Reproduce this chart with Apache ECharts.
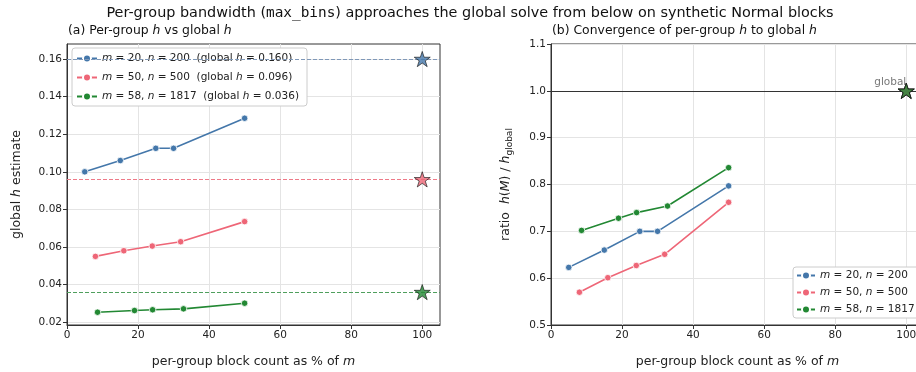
<!DOCTYPE html>
<html>
<head>
<meta charset="utf-8">
<script src="https://cdn.jsdelivr.net/npm/echarts@6/dist/echarts.min.js"></script>
<style>html,body{margin:0;padding:0;background:#fff}#c{width:916px;height:372px}</style>
</head>
<body>
<div id="c"></div>
<script>
// ---- data ----
const pct20 = [5, 15, 25, 30, 50];
const pct50 = [8, 16, 24, 32, 50];
const pct58 = [8.6, 19.0, 24.1, 32.8, 50];
const h20 = [0.100, 0.106, 0.1125, 0.1125, 0.1285];
const h50 = [0.055, 0.058, 0.0605, 0.0628, 0.0735];
const h58 = [0.0253, 0.0262, 0.0266, 0.0271, 0.0301];
const global20 = 0.160, global50 = 0.096, global58 = 0.036;
const ratio20 = [0.623, 0.660, 0.700, 0.700, 0.797];
const ratio50 = [0.570, 0.601, 0.627, 0.651, 0.762];
const ratio58 = [0.702, 0.728, 0.740, 0.754, 0.836];
const globalPct = 100;
const leftYTicks = [0.02, 0.04, 0.06, 0.08, 0.10, 0.12, 0.14, 0.16];
const xTicks = [0, 20, 40, 60, 80, 100];

const C = { b: '#4477AA', r: '#EE6677', g: '#228833' };
const FONT = 'DejaVu Sans';
const STAR = 'path://M0,-100 L22.45,-30.9 L95.1,-30.9 L36.3,11.8 L58.8,80.9 L0,38.2 L-58.8,80.9 L-36.3,11.8 L-95.1,-30.9 L-22.45,-30.9 Z';

const zip = (a, b) => a.map((v, i) => [v, b[i]]);
const it = { fontStyle: 'italic', fontFamily: FONT, fontSize: 10.5, color: '#222' };
const nameRich = (fs) => ({
  n: { fontFamily: FONT, fontSize: fs, color: '#222' },
  i: { fontFamily: FONT, fontSize: fs, fontStyle: 'italic', color: '#222' },
  s: { fontFamily: FONT, fontSize: fs * 0.72, color: '#222', padding: [7, 0, 0, 0] }
});

function lineSeries(name, color, x, y, idx) {
  return {
    name, type: 'line', xAxisIndex: idx, yAxisIndex: idx,
    data: zip(x, y), symbol: 'circle', symbolSize: 6.5,
    lineStyle: { color, width: 1.6 },
    itemStyle: { color, borderColor: '#fff', borderWidth: 0.8 },
    z: 5, animation: false
  };
}
// reference line at the global value, drawn in its own series so its colour is independent
function refLine(value, color, idx, dashed) {
  const ls = { color, type: dashed ? [4, 2] : 'solid', width: 1, opacity: 1 };
  return { type: 'line', xAxisIndex: idx, yAxisIndex: idx, data: [], color: color, z: 3, silent: true,
    markLine: { silent: true, symbol: 'none', animation: false, precision: 4, label: { show: false },
      lineStyle: ls, data: [{ yAxis: value, lineStyle: ls }] } };
}
function star(color, value, idx, z) {
  return { type: 'scatter', xAxisIndex: idx, yAxisIndex: idx, data: [[globalPct, value]],
    symbol: STAR, symbolSize: 16, symbolKeepAspect: true,
    itemStyle: { color, borderColor: '#111', borderWidth: 0.8 }, z: z, animation: false };
}

const legendLabels = {
  a20: '{i|m} = 20, {i|n} = 200  (global {i|h} = 0.160)',
  a50: '{i|m} = 50, {i|n} = 500  (global {i|h} = 0.096)',
  a58: '{i|m} = 58, {i|n} = 1817  (global {i|h} = 0.036)',
  b20: '{i|m} = 20, {i|n} = 200',
  b50: '{i|m} = 50, {i|n} = 500',
  b58: '{i|m} = 58, {i|n} = 1817'
};

function xAxis(idx) {
  return {
    type: 'value', gridIndex: idx, min: 0, max: 105,
    name: '{n|per-group block count as % of }{i|m}', nameLocation: 'middle', nameGap: 30,
    nameTextStyle: { rich: nameRich(12.5) },
    axisLine: { onZero: false, lineStyle: { color: '#333', width: 1 } },
    axisTick: { show: true, length: 4, customValues: xTicks, lineStyle: { color: '#333' } },
    axisLabel: { fontFamily: FONT, fontSize: 10.5, color: '#222', margin: 5, customValues: xTicks },
    splitLine: { show: true, lineStyle: { color: '#e4e4e4', width: 1 } }
  };
}

const titleRich = (fs) => ({
  n: { fontFamily: FONT, fontSize: fs, fontWeight: 'normal', color: '#111' },
  i: { fontFamily: FONT, fontSize: fs, fontWeight: 'normal', fontStyle: 'italic', color: '#111' },
  c: { fontFamily: 'DejaVu Sans Mono', fontSize: fs, fontWeight: 'normal', color: '#111' }
});

const option = {
  backgroundColor: '#fff',
  animation: false,
  textStyle: { fontFamily: FONT },
  title: [
    { text: '{n|Per-group bandwidth (}{c|max_bins}{n|) approaches the global solve from below on synthetic Normal blocks}',
      left: 470, top: 6, textAlign: 'center', padding: 0,
      textStyle: { fontWeight: 'normal', rich: titleRich(14.4) } },
    { text: '{n|(a) Per-group }{i|h}{n| vs global }{i|h}', left: 68, top: 25, padding: 0,
      textStyle: { fontWeight: 'normal', rich: titleRich(12.4) } },
    { text: '{n|(b) Convergence of per-group }{i|h}{n| to global }{i|h}', left: 552, top: 25, padding: 0,
      textStyle: { fontWeight: 'normal', rich: titleRich(12.4) } }
  ],
  grid: [
    { left: 67, top: 44, width: 373, height: 281, outerBoundsMode: 'none', containLabel: false, show: true, borderColor: '#333', borderWidth: 1, backgroundColor: 'transparent' },
    { left: 551, top: 44, width: 373, height: 281, outerBoundsMode: 'none', containLabel: false, show: true, borderColor: '#333', borderWidth: 1, backgroundColor: 'transparent' }
  ],
  legend: [
    { data: ['a20', 'a50', 'a58'], orient: 'vertical', left: 72, top: 48, itemGap: 8, itemWidth: 20, itemHeight: 10,
      backgroundColor: '#fff', borderColor: '#ccc', borderWidth: 1, borderRadius: 3, padding: [5, 8, 4, 4],
      formatter: n => legendLabels[n],
      textStyle: { fontFamily: FONT, fontSize: 10.5, color: '#222', rich: { i: it } } },
    { data: ['b20', 'b50', 'b58'], orient: 'vertical', left: 793, top: 267, itemGap: 6, itemWidth: 18, itemHeight: 10,
      backgroundColor: '#fff', borderColor: '#ccc', borderWidth: 1, borderRadius: 3, padding: [3, 6, 3, 3],
      formatter: n => legendLabels[n],
      textStyle: { fontFamily: FONT, fontSize: 10.5, color: '#222', rich: { i: it } } }
  ],
  xAxis: [xAxis(0), xAxis(1)],
  yAxis: [
    { type: 'value', gridIndex: 0, min: 0.0185, max: 0.168,
      name: '{n|global }{i|h}{n| estimate}', nameLocation: 'middle', nameGap: 44,
      nameTextStyle: { rich: nameRich(12.5) },
      axisLine: { show: true, lineStyle: { color: '#333' } },
      axisTick: { show: true, length: 4, customValues: leftYTicks, lineStyle: { color: '#333' } },
      axisLabel: { fontFamily: FONT, fontSize: 10.5, color: '#222', margin: 5, customValues: leftYTicks, formatter: v => v.toFixed(2) },
      splitLine: { show: true, lineStyle: { color: '#e4e4e4', width: 1 } } },
    { type: 'value', gridIndex: 1, min: 0.5, max: 1.1, interval: 0.1,
      name: '{n|ratio  }{i|h}{n|(}{i|M}{n|) / }{i|h}{s|global}', nameLocation: 'middle', nameGap: 37,
      nameTextStyle: { rich: nameRich(12.5) },
      axisLine: { show: true, lineStyle: { color: '#333' } },
      axisTick: { show: true, length: 4, lineStyle: { color: '#333' } },
      axisLabel: { fontFamily: FONT, fontSize: 10.5, color: '#222', margin: 5, formatter: v => v.toFixed(1) },
      splitLine: { show: true, lineStyle: { color: '#e4e4e4', width: 1 } } }
  ],
  series: [
    refLine(global20, '#7f98b8', 0, true),
    refLine(global50, '#ee7a88', 0, true),
    refLine(global58, '#4f9f5d', 0, true),
    lineSeries('a20', C.b, pct20, h20, 0),
    lineSeries('a50', C.r, pct50, h50, 0),
    lineSeries('a58', C.g, pct58, h58, 0),
    star(C.b, global20, 0, 10), star(C.r, global50, 0, 10), star(C.g, global58, 0, 10),
    refLine(1.0, '#333', 1, false),
    lineSeries('b20', C.b, pct20, ratio20, 1),
    lineSeries('b50', C.r, pct50, ratio50, 1),
    lineSeries('b58', C.g, pct58, ratio58, 1),
    star(C.b, 1.0, 1, 10), star(C.r, 1.0, 1, 11), star(C.g, 1.0, 1, 12),
    { type: 'scatter', xAxisIndex: 1, yAxisIndex: 1, data: [[globalPct, 1.0]], symbolSize: 0.1, silent: true,
      itemStyle: { color: 'transparent' }, z: 4,
      label: { show: true, formatter: 'global', position: 'top', align: 'right', distance: 3,
        fontFamily: FONT, fontSize: 10.5, color: '#555' } }
  ]
};
const chart = echarts.init(document.getElementById('c'), null, { renderer: 'canvas' });
chart.setOption(option);
</script>
</body>
</html>
